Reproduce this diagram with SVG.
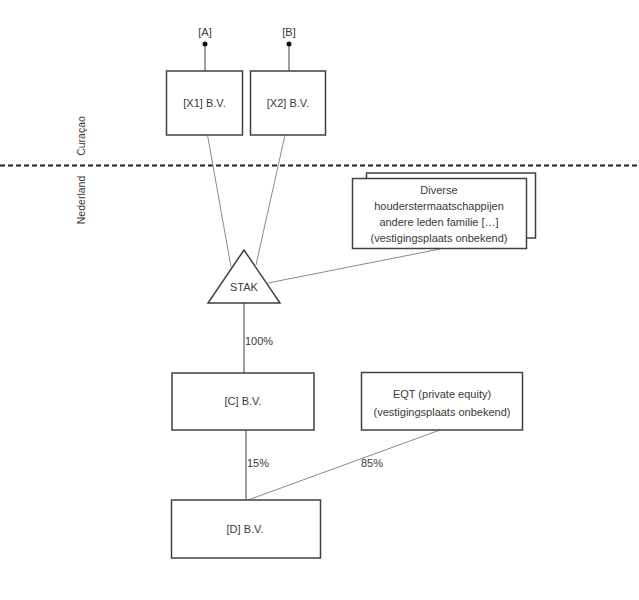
<svg xmlns="http://www.w3.org/2000/svg" width="639" height="600" viewBox="0 0 639 600">
<style>
text{font-family:"Liberation Sans",Arial,sans-serif;font-size:11px;fill:#3a3a3a;text-anchor:middle}
.box{fill:#fff;stroke:#404040;stroke-width:1.5}
.ln{stroke:#8a8a8a;stroke-width:1;fill:none}
.dk{stroke:#404040;stroke-width:1;fill:none}
</style>
<rect width="639" height="600" fill="#fff"/>
<line x1="0" y1="165.5" x2="639" y2="165.5" stroke="#222" stroke-width="2" stroke-dasharray="5,3"/>
<text transform="translate(85,136) rotate(-90)" style="font-size:10.5px">Curaçao</text>
<text transform="translate(85,200) rotate(-90)" style="font-size:10.5px">Nederland</text>
<g id="connectors">
<line class="dk" x1="205" y1="44" x2="205" y2="71"/>
<line class="dk" x1="289" y1="44" x2="289" y2="71"/>
<line class="ln" x1="207.5" y1="135" x2="231" y2="267"/>
<line class="ln" x1="285" y1="135" x2="256" y2="265"/>
<line class="ln" x1="268" y1="283" x2="440" y2="249"/>
<line class="dk" x1="244" y1="303" x2="244" y2="373"/>
<line class="dk" x1="246" y1="430" x2="246" y2="500"/>
<line class="ln" x1="440" y1="430" x2="248" y2="500"/>
<text x="259" y="345">100%</text>
<text x="258" y="467">15%</text>
<text x="372" y="467">85%</text>
</g>
<g id="A"><circle cx="205" cy="44" r="2.5" fill="#111"/><text x="205" y="36">[A]</text></g>
<g id="B"><circle cx="289" cy="44" r="2.5" fill="#111"/><text x="289" y="36">[B]</text></g>
<g id="X1"><rect class="box" x="166.5" y="71" width="76" height="64"/><text x="204.5" y="107">[X1] B.V.</text></g>
<g id="X2"><rect class="box" x="250.5" y="71" width="75" height="64"/><text x="288" y="107">[X2] B.V.</text></g>
<g id="Diverse">
<rect class="box" x="366.5" y="173" width="169" height="65"/>
<rect class="box" x="352.5" y="178.5" width="174" height="70"/>
<text x="439" y="194">Diverse</text>
<text x="439" y="210">houderstermaatschappijen</text>
<text x="439" y="226">andere leden familie […]</text>
<text x="439" y="242">(vestigingsplaats onbekend)</text>
</g>
<g id="STAK"><polygon points="244,250 208,303 280,303" fill="#fff" stroke="#404040" stroke-width="1.5"/><text x="244" y="291">STAK</text></g>
<g id="C"><rect class="box" x="172" y="373" width="142" height="57"/><text x="243" y="405">[C] B.V.</text></g>
<g id="EQT"><rect class="box" x="361.5" y="372.5" width="161" height="57.5"/><text x="442" y="398">EQT (private equity)</text><text x="442" y="416">(vestigingsplaats onbekend)</text></g>
<g id="D"><rect class="box" x="171.5" y="500" width="149" height="58"/><text x="245" y="533">[D] B.V.</text></g>
</svg>
